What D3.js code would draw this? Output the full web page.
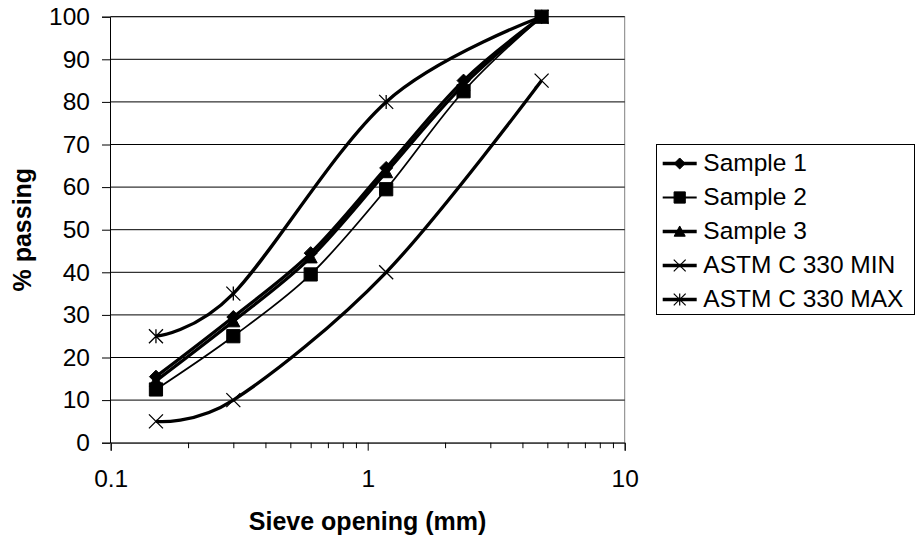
<!DOCTYPE html>
<html>
<head>
<meta charset="utf-8">
<script src="https://cdn.jsdelivr.net/npm/d3@7/dist/d3.min.js"></script>
<style>
  html, body { margin: 0; padding: 0; background: #fff; }
  svg { display: block; font-family: Arial, "Liberation Sans", sans-serif; }
</style>
</head>
<body>
<svg id="chart" width="916" height="541"></svg>
<script>
// Sieve openings (mm) and percent passing for each sample
const sieves = [0.15, 0.3, 0.6, 1.18, 2.36, 4.75];
const sample1 = [15.5, 29.5, 44.5, 64.5, 85, 100];
const sample2 = [12.5, 25, 39.5, 59.5, 82.5, 100];
const sample3 = [14.5, 28.5, 43.5, 63.5, 84, 100];

// ASTM C 330 grading limits (defined only at some sieves)
const limitSieves = [0.15, 0.3, 1.18, 4.75];
const astmMin = [5, 10, 40, 85];
const astmMax = [25, 35, 80, 100];

const yTicks = [0, 10, 20, 30, 40, 50, 60, 70, 80, 90, 100];
const xMajorTicks = [0.1, 1, 10];
const xTickLabels = ["0.1", "1", "10"];

const seriesNames = ["Sample 1", "Sample 2", "Sample 3", "ASTM C 330 MIN", "ASTM C 330 MAX"];

const svg = d3.select("#chart");

const plot = { left: 110.5, right: 624.7, top: 16.7, bottom: 442.7 };

const x = d3.scaleLog().domain([0.1, 10]).range([110.7, 624.7]);
const y = d3.scaleLinear().domain([0, 100]).range([plot.bottom, plot.top]);

// plot area frame
svg.append("rect")
  .attr("x", plot.left).attr("y", plot.top)
  .attr("width", plot.right - plot.left).attr("height", plot.bottom - plot.top)
  .attr("fill", "none").attr("stroke", "#808080").attr("stroke-width", 1);

// horizontal gridlines
svg.append("g")
  .selectAll("line")
  .data(yTicks.slice(1))
  .join("line")
  .attr("x1", plot.left).attr("x2", plot.right)
  .attr("y1", d => y(d)).attr("y2", d => y(d))
  .attr("stroke", "#000").attr("stroke-width", 1);

// y axis
const yAxis = svg.append("g")
  .attr("transform", `translate(${plot.left - 0.5},0)`)
  .call(d3.axisLeft(y).tickValues(yTicks).tickSize(8).tickPadding(12).tickFormat(d3.format("d")));
yAxis.select(".domain").attr("stroke", "#000");
yAxis.selectAll(".tick line").attr("stroke", "#000");
yAxis.selectAll(".tick text")
  .attr("font-size", 24.5).attr("fill", "#000")
  .attr("font-family", "Arial, 'Liberation Sans', sans-serif");

// x axis: minor ticks
const minorTicks = [];
[0.1, 1].forEach(dec => { for (let k = 2; k <= 9; k++) minorTicks.push(+(dec * k).toFixed(2)); });

const xMinor = svg.append("g")
  .attr("transform", `translate(0,${plot.bottom})`)
  .call(d3.axisBottom(x).tickValues(minorTicks).tickSize(5.5).tickFormat(""));
xMinor.select(".domain").remove();
xMinor.selectAll(".tick line").attr("stroke", "#000");

// x axis: major ticks and labels
const xAxis = svg.append("g")
  .attr("transform", `translate(0,${plot.bottom})`)
  .call(d3.axisBottom(x).tickValues(xMajorTicks).tickSize(8)
    .tickFormat((d, i) => xTickLabels[i]));
xAxis.select(".domain").attr("stroke", "#000");
xAxis.selectAll(".tick line").attr("stroke", "#000");
xAxis.selectAll(".tick text")
  .attr("y", 44.6).attr("dy", null)
  .attr("font-size", 24.5).attr("fill", "#000")
  .attr("font-family", "Arial, 'Liberation Sans', sans-serif");

// axis titles
svg.append("text")
  .attr("x", (plot.left + plot.right) / 2).attr("y", 530)
  .attr("text-anchor", "middle")
  .attr("font-size", 25).attr("font-weight", "bold")
  .text("Sieve opening (mm)");

svg.append("text")
  .attr("transform", `translate(31,${(plot.top + plot.bottom) / 2}) rotate(-90)`)
  .attr("text-anchor", "middle")
  .attr("font-size", 25).attr("font-weight", "bold")
  .text("% passing");

// marker shapes (relative to the marker centre)
const markerPath = {
  diamond: s => `M0,${-s}L${s},0L0,${s}L${-s},0Z`,
  square: s => `M${-s},${-s}H${s}V${s}H${-s}Z`,
  triangle: s => `M0,${-s}L${s},${s * 0.85}L${-s},${s * 0.85}Z`,
  cross: s => `M${-s},${-s}L${s},${s}M${s},${-s}L${-s},${s}`,
  star: s => `M${-s},${-s}L${s},${s}M${s},${-s}L${-s},${s}M0,${-s}V${s}`
};

const series = [
  { name: seriesNames[0], xs: sieves, ys: sample1, width: 3.3, marker: "diamond", size: 6.5, filled: true },
  { name: seriesNames[1], xs: sieves, ys: sample2, width: 1.8, marker: "square", size: 6.6, filled: true },
  { name: seriesNames[2], xs: sieves, ys: sample3, width: 3.3, marker: "triangle", size: 6.5, filled: true },
  { name: seriesNames[3], xs: limitSieves, ys: astmMin, width: 3.3, marker: "cross", size: 7, filled: false },
  { name: seriesNames[4], xs: limitSieves, ys: astmMax, width: 3.3, marker: "star", size: 7, filled: false }
];

const line = d3.line()
  .x(d => x(d[0]))
  .y(d => y(d[1]))
  .curve(d3.curveCardinal.tension(0));

const lines = svg.append("g");
series.forEach(s => {
  lines.append("path")
    .datum(s.xs.map((v, i) => [v, s.ys[i]]))
    .attr("d", line)
    .attr("fill", "none")
    .attr("stroke", "#000")
    .attr("stroke-width", s.width)
    .attr("stroke-linejoin", "round");
});

// markers, square series last so it sits on top at the 100 % point
const markerOrder = [3, 4, 2, 0, 1];
const markers = svg.append("g");
markerOrder.forEach(idx => {
  const s = series[idx];
  markers.append("g")
    .selectAll("path")
    .data(s.xs.map((v, i) => [v, s.ys[i]]))
    .join("path")
    .attr("transform", d => `translate(${x(d[0])},${y(d[1])})`)
    .attr("d", markerPath[s.marker](s.size))
    .attr("fill", s.filled ? "#000" : "none")
    .attr("stroke", "#000")
    .attr("stroke-width", s.filled ? 1 : 1.3);
});

// legend
const legend = svg.append("g");
legend.append("rect")
  .attr("x", 656.5).attr("y", 144.5)
  .attr("width", 258).attr("height", 170)
  .attr("fill", "#fff").attr("stroke", "#000").attr("stroke-width", 1);

const legendBaselines = [171, 205, 239, 273, 307];
series.forEach((s, i) => {
  const cy = legendBaselines[i] - 7.5;
  const row = legend.append("g");
  row.append("line")
    .attr("x1", 662.7).attr("x2", 696.7)
    .attr("y1", cy).attr("y2", cy)
    .attr("stroke", "#000").attr("stroke-width", s.width);
  row.append("path")
    .attr("transform", `translate(679.7,${cy})`)
    .attr("d", markerPath[s.marker](s.size * 0.85))
    .attr("fill", s.filled ? "#000" : "none")
    .attr("stroke", "#000")
    .attr("stroke-width", s.filled ? 1 : 1.2);
  row.append("text")
    .attr("x", 703.3).attr("y", legendBaselines[i])
    .attr("font-size", 24.5)
    .text(s.name);
});
</script>
